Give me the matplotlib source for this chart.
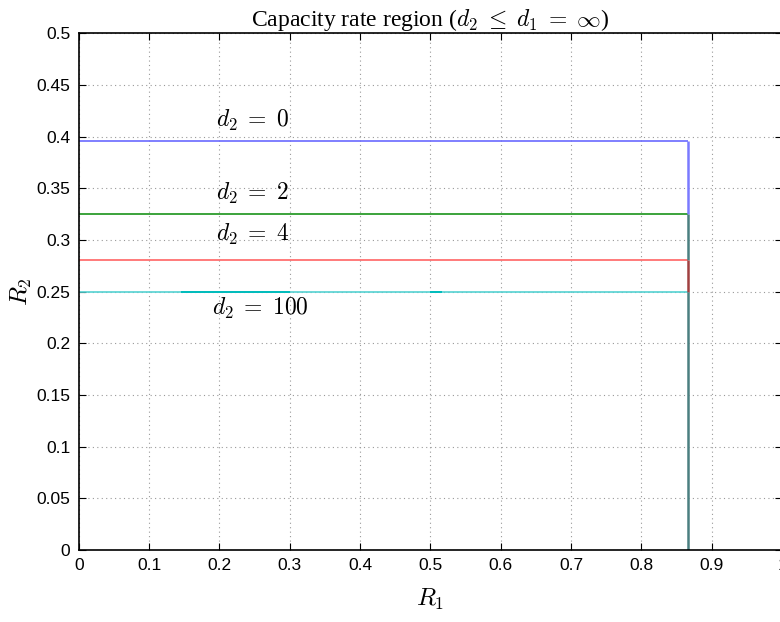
"""Capacity rate region plot (MATLAB style)"""

import matplotlib
matplotlib.use("Agg")
import matplotlib.pyplot as plt
import numpy as np

plt.rcParams["font.family"] = ["Liberation Sans", "DejaVu Sans"]
plt.rcParams["mathtext.fontset"] = "cm"

# data
d2_values = [0, 2, 4, 100]
r2_levels = [0.396, 0.325, 0.281, 0.25]
r1_corner = 0.866
line_colors = ["#6a6aff", "#1a931a", "#ff6464", "#55d2d2"]

# segments on the vertical edge where the overlapping curves blend
vert_from = [0.396, 0.325, 0.281, 0.25]
vert_to = [0.325, 0.281, 0.25, 0.0]
vert_colors = ["#7a7aff", "#4a7f80", "#a04040", "#4a7f80"]

# darker pieces on the d2=100 line
dark_from = [0.146, 0.500]
dark_to = [0.300, 0.517]

# label positions (data units)
label_x = [0.195, 0.195, 0.195, 0.189]
label_y = [0.416, 0.345, 0.305, 0.234]

xticks = np.arange(0, 1.01, 0.1)
yticks = np.arange(0, 0.501, 0.05)

fig = plt.figure(figsize=(7.8, 6.22), dpi=100)
ax = fig.add_axes([0.101, 0.1158, 0.9017, 0.8307])

# ── horizontal edges ──
for lvl, col in zip(r2_levels, line_colors):
    ax.plot([0, r1_corner], [lvl, lvl], color=col, linewidth=1.2, solid_capstyle="butt")

for a, b in zip(dark_from, dark_to):
    ax.plot([a, b], [r2_levels[-1], r2_levels[-1]], color="#00bcbc", linewidth=1.4,
            solid_capstyle="butt")

# ── vertical edge ──
for a, b, col in zip(vert_from, vert_to, vert_colors):
    ax.plot([r1_corner, r1_corner], [a, b], color=col, linewidth=1.8, solid_capstyle="butt")

# labels
for d2, x, y in zip(d2_values, label_x, label_y):
    ax.text(x, y, rf"$d_2 \;=\; {d2}$", fontsize=17, ha="left", va="center")

ax.set_xlim(0, 1)
ax.set_ylim(0, 0.5)
ax.set_xticks(xticks)
ax.set_xticklabels([f"{v:g}" for v in np.round(xticks, 2)])
ax.set_yticks(yticks)
ax.set_yticklabels([f"{v:g}" for v in np.round(yticks, 2)])
ax.tick_params(direction="in", top=True, right=True, labelsize=12.5, length=5, width=0.8,
               pad=6)
ax.grid(True, linestyle=(0, (1, 3)), color="#999999", linewidth=0.8)
for sp in ax.spines.values():
    sp.set_linewidth(1.2)

ax.set_xlabel(r"$R_1$", fontsize=18, labelpad=10)
ax.set_ylabel(r"$R_2$", fontsize=18, labelpad=2)
ax.set_title(r"Capacity rate region ($d_2 \;\leq\; d_1 \;=\; \infty$)", fontsize=17,
             family=["Liberation Serif", "DejaVu Serif"], pad=5)

fig.savefig("out.png", dpi=100, facecolor="white")
plt.close(fig)
